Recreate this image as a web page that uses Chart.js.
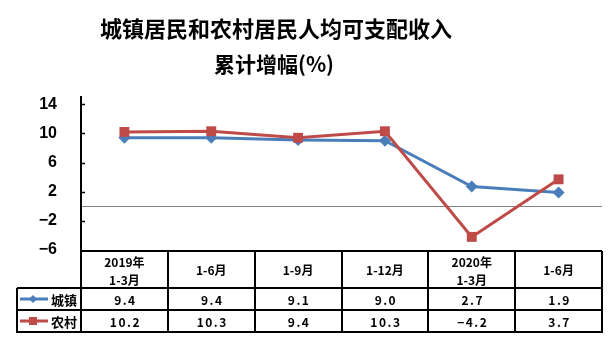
<!DOCTYPE html>
<html><head><meta charset="utf-8">
<script src="https://cdn.jsdelivr.net/npm/chart.js@4/dist/chart.umd.min.js"></script>
<style>html,body{margin:0;padding:0;background:#fff}#wrap{width:615px;height:343px}</style>
</head><body><div id="wrap"><canvas id="c" width="615" height="343"></canvas></div>
<script>
const titleLines = ['城镇居民和农村居民人均可支配收入', '累计增幅(%)'];
const categories = [['2019年', '1-3月'], '1-6月', '1-9月', '1-12月', ['2020年', '1-3月'], '1-6月'];
const urbanName = '城镇';
const ruralName = '农村';
const urbanValues = [9.4, 9.4, 9.1, 9.0, 2.7, 1.9];
const ruralValues = [10.2, 10.3, 9.4, 10.3, -4.2, 3.7];
const yTicks = [-6, -2, 0, 2, 6, 10, 14];

const BLUE = '#4A7EBB', RED = '#BE4B48';
const CJK = "'Noto Sans CJK SC', 'Liberation Sans', sans-serif";

const fmt = v => (v < 0 ? '−' : '') + Math.abs(v).toFixed(1);

const tablePlugin = {
  id: 'tablePlugin',
  afterDraw(chart) {
    const ctx = chart.ctx;
    const x = chart.scales.x, y = chart.scales.y;
    const L = chart.chartArea.left, R = chart.chartArea.right, B = chart.chartArea.bottom;
    const n = categories.length;
    const w = (R - L) / n;
    const legL = 17;
    const r0 = B + 1, r1 = 288, r2 = 310, r3 = 332;
    ctx.save();
    // title
    ctx.fillStyle = '#000';
    ctx.textAlign = 'center';
    ctx.textBaseline = 'middle';
    ctx.font = 'bold 22px ' + CJK;
    ctx.fillText(titleLines[0], 276, 29);
    ctx.font = 'bold 21px ' + CJK;
    ctx.fillText(titleLines[1], 274, 64);
    // inner tick marks
    ctx.strokeStyle = '#000';
    ctx.lineWidth = 1.5;
    yTicks.forEach(v => {
      if (v === 0 || v === -6) return;
      const py = Math.round(y.getPixelForValue(v)) + 0.5;
      ctx.beginPath(); ctx.moveTo(L, py); ctx.lineTo(L + 4, py); ctx.stroke();
    });
    // table grid
    ctx.lineWidth = 2;
    ctx.beginPath();
    ctx.moveTo(L - 1, r0); ctx.lineTo(R, r0);
    [r1, r2, r3].forEach(ry => { ctx.moveTo(legL, ry); ctx.lineTo(R + 1, ry); });
    ctx.moveTo(legL, r1); ctx.lineTo(legL, r3 + 1);
    ctx.moveTo(L, B - 2); ctx.lineTo(L, r3 + 1);
    for (let i = 1; i <= n; i++) {
      const bx = Math.round(L + i * w);
      ctx.moveTo(bx, r0); ctx.lineTo(bx, r3 + 1);
    }
    ctx.stroke();
    // header labels
    ctx.font = 'bold 12px ' + CJK;
    categories.forEach((c, i) => {
      const cx = x.getPixelForValue(i);
      if (Array.isArray(c)) {
        ctx.fillText(c[0], cx, 262);
        ctx.fillText(c[1], cx, 280);
      } else {
        ctx.fillText(c, cx, 270);
      }
    });
    // values
    ctx.font = 'bold 12px ' + CJK;
    if ('letterSpacing' in ctx) ctx.letterSpacing = '1.5px';
    urbanValues.forEach((v, i) => ctx.fillText(fmt(v), x.getPixelForValue(i) + 1, (r1 + r2) / 2 + 1));
    ruralValues.forEach((v, i) => ctx.fillText(fmt(v), x.getPixelForValue(i) + 1, (r2 + r3) / 2 + 1));
    if ('letterSpacing' in ctx) ctx.letterSpacing = '0px';
    // legend cells
    const drawLeg = (color, cy, shape, name) => {
      ctx.strokeStyle = color; ctx.fillStyle = color; ctx.lineWidth = 3;
      ctx.beginPath(); ctx.moveTo(20, cy); ctx.lineTo(48, cy); ctx.stroke();
      ctx.beginPath();
      if (shape === 'd') {
        ctx.moveTo(33, cy - 4); ctx.lineTo(37, cy); ctx.lineTo(33, cy + 4); ctx.lineTo(29, cy); ctx.closePath();
      } else {
        ctx.rect(29, cy - 4, 8, 8);
      }
      ctx.fill();
      ctx.fillStyle = '#000';
      ctx.font = 'bold 13px ' + CJK;
      ctx.textAlign = 'left';
      ctx.fillText(name, 51, cy + 1);
      ctx.textAlign = 'center';
    };
    drawLeg(BLUE, (r1 + r2) / 2, 'd', urbanName);
    drawLeg(RED, (r2 + r3) / 2, 's', ruralName);
    ctx.restore();
  }
};

new Chart(document.getElementById('c'), {
  type: 'line',
  data: {
    labels: categories,
    datasets: [
      { label: urbanName, data: urbanValues, borderColor: BLUE, backgroundColor: BLUE, borderWidth: 3,
        pointStyle: 'rectRot', pointRadius: 6, pointBorderWidth: 0, order: 1, tension: 0 },
      { label: ruralName, data: ruralValues, borderColor: RED, backgroundColor: RED, borderWidth: 3,
        pointStyle: 'rect', pointRadius: 7, pointBorderWidth: 0, order: 0, tension: 0 }
    ]
  },
  options: {
    responsive: false,
    animation: false,
    layout: { padding: { left: 0, top: 97, right: 13, bottom: 93 } },
    plugins: { legend: { display: false }, title: { display: false }, tooltip: { enabled: false } },
    scales: {
      x: { display: false, offset: true },
      y: {
        min: -6, max: 15,
        afterBuildTicks: s => { s.ticks = yTicks.map(v => ({ value: v })); },
        afterFit: s => { s.width = 81; },
        border: { display: true, color: '#000', width: 2 },
        grid: { drawTicks: false, color: c => (c.tick && c.tick.value === 0 ? '#808080' : 'rgba(0,0,0,0)'), lineWidth: 1 },
        ticks: { padding: 24, color: '#000', font: { family: "'Liberation Sans', Arial, sans-serif", size: 16, weight: 'bold' },
          callback: v => (v === 0 ? '' : (v < 0 ? '−' + Math.abs(v) : String(v))) }
      }
    }
  },
  plugins: [tablePlugin]
});
</script></body></html>
